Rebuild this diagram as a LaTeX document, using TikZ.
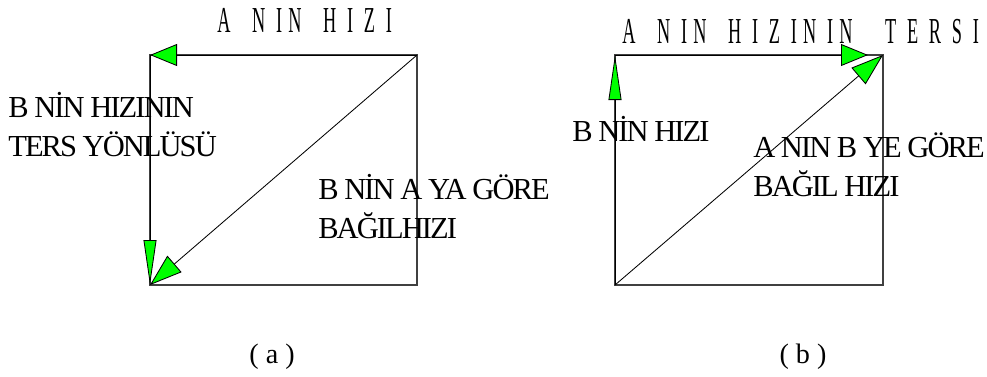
\documentclass[tikz,border=0pt]{standalone}
\usepackage{fontspec}
\setmainfont{Liberation Serif}
\newfontfamily\lblfont{Liberation Serif}[LetterSpace=-6.4]
\newfontfamily\capsfont{Liberation Serif}[LetterSpace=34]
\usepackage{graphicx}
\usepackage{xcolor}
\usetikzlibrary{arrows.meta}
\definecolor{vecgreen}{RGB}{0,255,0}
\newcommand{\tallcaps}[1]{\scalebox{0.5}[1]{\capsfont\fontsize{26}{30}\selectfont #1}}

\begin{document}
\begin{tikzpicture}[
        x=0.025cm, y=-0.025cm,
        side/.style={draw=black!75, line width=0.8pt},
        vec/.style={draw=black, line width=0.6pt},
        headwide/.style={-{Triangle[length=19.2pt, width=15.6pt, fill=vecgreen]}},
        headslim/.style={-{Triangle[length=32pt, width=9.2pt, fill=vecgreen]}},
        headdiag/.style={-{Triangle[length=23pt, width=15.4pt, fill=vecgreen]}},
        lbl/.style={font=\lblfont\fontsize{21.7}{27.7}\selectfont, align=left, inner sep=0pt, anchor=base west},
        title/.style={inner sep=0pt, anchor=base west},
        caption/.style={font=\fontsize{20}{24}\selectfont, inner sep=0pt, anchor=base}
    ]
        \useasboundingbox (0,0) rectangle (987,376);

        % (a)
        \coordinate (aTL) at (150,55);
        \coordinate (aTR) at (417,55);
        \coordinate (aBR) at (417,285);
        \coordinate (aBL) at (150,285);
        \draw[side] (aTL) -- (aTR) -- (aBR) -- (aBL) -- cycle;

        \draw[vec, headwide] (aTR) -- (aTL);
        \draw[vec, headslim] (aTL) -- (aBL);
        \draw[vec, headdiag] (aTR) -- (aBL);

        \node[title] (vA)   at (217,32)  {\tallcaps{A~~N IN~~H I Z I}};
        \node[lbl]   (vBinv) at (8,156)  {B NİN HIZININ\\TERS YÖNLÜSÜ};
        \node[lbl]   (vBA)  at (318,238) {B NİN A YA GÖRE\\BAĞILHIZI};
        \node[caption] (capA) at (272,363) {( a )};

        % (b)
        \coordinate (bTL) at (615,55);
        \coordinate (bTR) at (883,55);
        \coordinate (bBR) at (883,285);
        \coordinate (bBL) at (615,285);
        \coordinate (bTip) at (868,55);
        \draw[side] (bTL) -- (bTR) -- (bBR) -- (bBL) -- cycle;

        \draw[vec, headslim] (bBL) -- (bTL);
        \draw[vec, headwide] (bTL) -- (bTip);
        \draw[vec, headdiag] (bBL) -- (bTR);

        \node[title] (vAinv) at (622,43) {\tallcaps{A~~N IN~~H I Z IN IN~~~T E R S I}};
        \node[lbl]   (vB)   at (572,141) {B NİN HIZI};
        \node[lbl]   (vAB)  at (753,196) {A NIN B YE GÖRE\\BAĞIL HIZI};
        \node[caption] (capB) at (803,363) {( b )};
\end{tikzpicture}
\end{document}
